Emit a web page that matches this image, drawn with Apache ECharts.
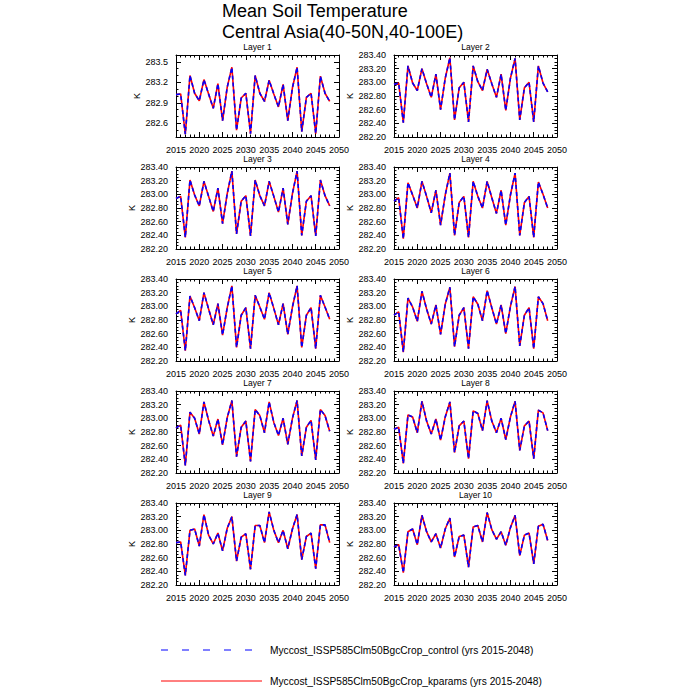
<!DOCTYPE html>
<html><head><meta charset="utf-8">
<script src="https://cdn.jsdelivr.net/npm/echarts@6/dist/echarts.min.js"></script>
<style>html,body{margin:0;padding:0;background:#fff}#c{width:700px;height:700px}</style>
</head><body><div id="c"></div>
<script>
const years = [2015,2016,2017,2018,2019,2020,2021,2022,2023,2024,2025,2026,2027,2028,2029,2030,2031,2032,2033,2034,2035,2036,2037,2038,2039,2040,2041,2042,2043,2044,2045,2046,2047,2048];
const layer1 = [283.02,283.03,282.44,283.30,283.04,282.93,283.24,283.03,282.82,283.18,282.64,283.13,283.42,282.50,282.97,283.04,282.45,283.30,283.04,282.92,283.23,283.03,282.84,283.17,282.64,283.12,283.42,282.48,282.98,283.04,282.45,283.29,283.04,282.92];
const layer2 = [282.97,282.99,282.41,283.24,282.99,282.88,283.20,282.98,282.78,283.12,282.60,283.06,283.36,282.45,282.92,283.00,282.42,283.24,283.01,282.88,283.19,282.98,282.78,283.12,282.59,283.06,283.35,282.45,282.92,283.00,282.42,283.24,282.99,282.86];
const layer3 = [282.94,282.97,282.37,283.21,282.99,282.83,283.19,282.97,282.75,283.09,282.57,283.01,283.34,282.42,282.90,282.98,282.39,283.21,282.98,282.83,283.19,282.97,282.74,283.09,282.56,283.01,283.34,282.40,282.90,282.98,282.39,283.21,282.98,282.83];
const layer4 = [282.90,282.95,282.35,283.17,282.99,282.80,283.19,282.97,282.73,283.06,282.55,282.99,283.31,282.40,282.88,282.97,282.37,283.19,282.97,282.80,283.19,282.95,282.72,283.06,282.55,282.99,283.31,282.40,282.88,282.97,282.37,283.18,283.00,282.80];
const layer5 = [282.89,282.94,282.35,283.15,282.98,282.79,283.20,282.96,282.73,283.04,282.58,282.98,283.30,282.40,282.87,282.98,282.38,283.16,282.99,282.81,283.20,282.97,282.73,283.04,282.59,282.99,283.30,282.40,282.87,282.98,282.38,283.16,282.99,282.81];
const layer6 = [282.87,282.92,282.33,283.12,282.99,282.78,283.22,282.96,282.74,283.02,282.59,283.03,283.28,282.41,282.87,282.98,282.38,283.14,283.03,282.79,283.23,282.98,282.74,283.02,282.60,283.00,283.29,282.42,282.87,282.98,282.38,283.14,283.04,282.79];
const layer7 = [282.86,282.90,282.31,283.09,283.00,282.77,283.24,282.97,282.74,282.99,282.61,283.01,283.26,282.44,282.87,282.96,282.37,283.13,283.04,282.79,283.24,282.94,282.75,283.00,282.62,283.00,283.26,282.45,282.87,282.97,282.39,283.13,283.04,282.81];
const layer8 = [282.84,282.87,282.34,283.05,283.02,282.79,283.25,282.96,282.77,282.99,282.68,283.02,283.24,282.50,282.89,282.96,282.41,283.11,283.07,282.82,283.26,282.96,282.79,283.00,282.69,283.02,283.25,282.53,282.89,282.96,282.41,283.12,283.08,282.82];
const layer9 = [282.82,282.83,282.34,283.00,283.02,282.77,283.23,282.93,282.80,282.96,282.70,283.03,283.20,282.55,282.90,282.95,282.43,283.07,283.07,282.82,283.27,283.00,282.82,283.00,282.73,283.02,283.23,282.57,282.91,282.96,282.44,283.08,283.08,282.82];
const layer10 = [282.76,282.79,282.38,282.98,283.02,282.79,283.22,282.98,282.83,282.95,282.74,283.02,283.18,282.61,282.91,282.93,282.46,283.05,283.07,282.83,283.26,283.01,282.87,282.98,282.78,283.04,283.22,282.63,282.93,282.96,282.51,283.06,283.09,282.85];
// The control and kparams runs overlap exactly at this resolution.
const controlValues = [layer1,layer2,layer3,layer4,layer5,layer6,layer7,layer8,layer9,layer10];
const kparamsValues = [layer1,layer2,layer3,layer4,layer5,layer6,layer7,layer8,layer9,layer10];
const layerNames = ['Layer 1','Layer 2','Layer 3','Layer 4','Layer 5','Layer 6','Layer 7','Layer 8','Layer 9','Layer 10'];
const layer1YTicks = [282.6,282.9,283.2,283.5];
const seriesNames = ['Myccost_ISSP585Clm50BgcCrop_control (yrs 2015-2048)','Myccost_ISSP585Clm50BgcCrop_kparams (yrs 2015-2048)'];
const titleLines = ['Mean Soil Temperature','Central Asia(40-50N,40-100E)'];

const FONT = '"Liberation Sans", Arial, Helvetica, sans-serif';
const colLeft = [176, 394];
const rowTop = [55, 167, 279, 391, 503];
const plotW = 163, plotH = 82;
const BLACK = '#000';
const TICK_FS = 9;

const grids = [], xAxes = [], yAxes = [], series = [];
const tickStyle = {color: BLACK, width: 1};

for (let i = 0; i < 10; i++) {
  const col = i % 2, row = Math.floor(i / 2);
  grids.push({left: colLeft[col], top: rowTop[row], width: plotW, height: plotH, containLabel: false, show: false});
  const xBase = {
    type: 'value', gridIndex: i, min: 2015, max: 2050, interval: 5,
    axisLine: {show: true, onZero: false, lineStyle: tickStyle},
    axisTick: {show: true, inside: true, length: 5, lineStyle: tickStyle},
    minorTick: {show: true, splitNumber: 5, length: 2.5, lineStyle: tickStyle},
    splitLine: {show: false}, minorSplitLine: {show: false}
  };
  const xb = xAxes.length;
  xAxes.push(Object.assign({}, xBase, {position: 'bottom',
    axisLabel: {show: true, fontSize: TICK_FS, color: BLACK, fontFamily: FONT, margin: 8, formatter: v => String(v)}}));
  xAxes.push(Object.assign({}, xBase, {position: 'top', axisLabel: {show: false},
    name: layerNames[i], nameLocation: 'middle', nameGap: 4,
    nameTextStyle: {fontSize: 8.5, color: BLACK, fontFamily: FONT}}));

  const isL1 = i === 0;
  let yBase;
  if (isL1) {
    yBase = {type: 'value', gridIndex: i, min: 282.4, max: 283.6, interval: 0.1,
      axisLine: {show: true, onZero: false, lineStyle: tickStyle},
      axisTick: {show: true, inside: true, length: 5, lineStyle: tickStyle, customValues: layer1YTicks},
      minorTick: {show: false}, splitLine: {show: false}};
  } else {
    yBase = {type: 'value', gridIndex: i, min: 282.2, max: 283.4, interval: 0.2,
      axisLine: {show: true, onZero: false, lineStyle: tickStyle},
      axisTick: {show: true, inside: true, length: 5, lineStyle: tickStyle},
      minorTick: {show: true, splitNumber: 4, length: 2.5, lineStyle: tickStyle},
      splitLine: {show: false}, minorSplitLine: {show: false}};
  }
  const yl = yAxes.length;
  const lbl = isL1
    ? {show: true, fontSize: TICK_FS, color: BLACK, fontFamily: FONT, margin: 8, customValues: layer1YTicks, formatter: v => v.toFixed(1)}
    : {show: true, fontSize: TICK_FS, color: BLACK, fontFamily: FONT, margin: 8, formatter: v => v.toFixed(2)};
  yAxes.push(Object.assign({}, yBase, {position: 'left', axisLabel: lbl,
    name: 'K', nameLocation: 'middle', nameGap: isL1 ? 34 : 38, nameRotate: 90,
    nameTextStyle: {fontSize: 9, color: BLACK, fontFamily: FONT}}));
  yAxes.push(Object.assign({}, yBase, {position: 'right', axisLabel: {show: false}}));
  if (isL1) {
    ['left','right'].forEach(p => yAxes.push({type: 'value', gridIndex: i, min: 282.4, max: 283.6, interval: 0.1, position: p,
      axisLine: {show: false}, axisLabel: {show: false}, splitLine: {show: false},
      axisTick: {show: true, inside: true, length: 2.5, lineStyle: tickStyle}}));
  }
  series.push({name: seriesNames[1], type: 'line', xAxisIndex: xb, yAxisIndex: yl,
    data: years.map((y, k) => [y, kparamsValues[i][k]]), symbol: 'none', silent: true,
    lineStyle: {color: '#ff0000', width: 1.6, type: 'solid'}, z: 2});
  series.push({name: seriesNames[0], type: 'line', xAxisIndex: xb, yAxisIndex: yl,
    data: years.map((y, k) => [y, controlValues[i][k]]), symbol: 'none', silent: true,
    lineStyle: {color: '#0000ff', width: 1.6, type: [4, 3]}, z: 3});
}

const graphic = [
  {type: 'text', x: 222, y: 11, style: {text: titleLines[0], fontSize: 18, fontFamily: FONT, fill: BLACK, verticalAlign: 'middle'}},
  {type: 'text', x: 222, y: 32, style: {text: titleLines[1], fontSize: 18, fontFamily: FONT, fill: BLACK, verticalAlign: 'middle'}},
  {type: 'line', shape: {x1: 161, y1: 650, x2: 256, y2: 650}, style: {stroke: '#0000ff', lineWidth: 1, lineDash: [7, 14]}},
  {type: 'text', x: 270, y: 650, style: {text: seriesNames[0], fontSize: 10.2, fontFamily: FONT, fill: BLACK, verticalAlign: 'middle'}},
  {type: 'line', shape: {x1: 161, y1: 681, x2: 262, y2: 681}, style: {stroke: '#ff0000', lineWidth: 1}},
  {type: 'text', x: 270, y: 681, style: {text: seriesNames[1], fontSize: 10.2, fontFamily: FONT, fill: BLACK, verticalAlign: 'middle'}}
];

const chart = echarts.init(document.getElementById('c'), null, {renderer: 'svg'});
chart.setOption({animation: false, backgroundColor: '#fff', grid: grids, xAxis: xAxes, yAxis: yAxes, series: series, graphic: graphic});
</script></body></html>
